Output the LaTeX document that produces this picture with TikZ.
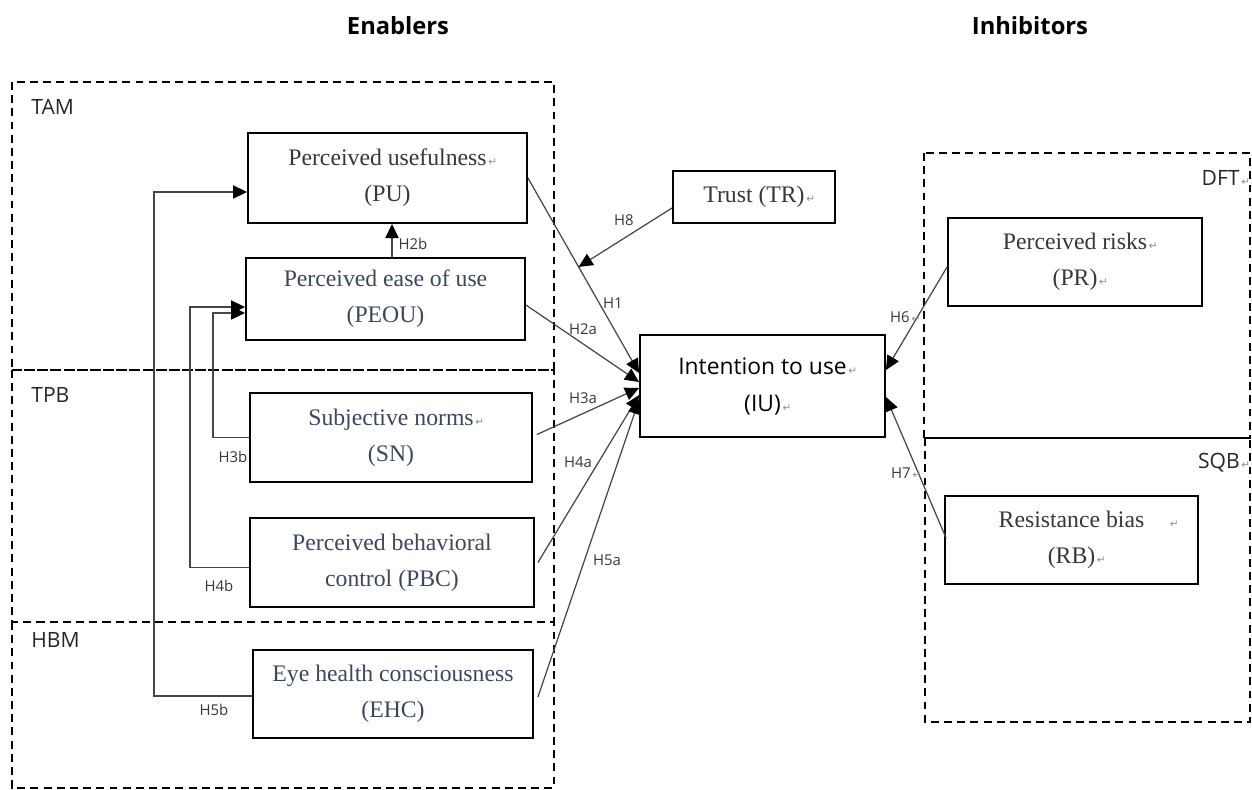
\documentclass[tikz,border=0pt]{standalone}
\usepackage{fontspec}
\setmainfont{Liberation Serif}
\setsansfont{Open Sans}
\newfontfamily\markfont{DejaVu Sans}
\usepackage{tikz}
\usetikzlibrary{calc, positioning, arrows.meta}
\definecolor{BoxText}{RGB}{59,72,92}
\definecolor{GreyText}{RGB}{55,55,55}
\definecolor{LineGrey}{RGB}{70,70,70}
\definecolor{MarkGrey}{RGB}{140,140,140}
% word-style paragraph mark, kept out of the centring
\newcommand{\pmark}{\rlap{{\markfont\fontsize{6}{6}\selectfont\color{MarkGrey}\,↵}}}

\begin{document}
\begin{tikzpicture}[x=0.02cm, y=-0.02cm,
  box/.style={draw, line width=1.1pt, align=center, inner sep=0pt, text=BoxText,
              font=\fontsize{13.5}{20.5}\selectfont},
  group/.style={draw, line width=1.1pt, dash pattern=on 4.5pt off 3pt},
  link/.style={draw=LineGrey, line width=0.7pt, -{Triangle[length=8pt,width=7.5pt,color=black]}},
  hyp/.style={font=\sffamily\fontsize{8.5}{10}\selectfont, text=GreyText, inner sep=1pt},
  tag/.style={font=\sffamily\fontsize{12}{14}\selectfont, text=black!85, inner sep=0pt}]
  \useasboundingbox (0,0) rectangle (1252,790);

  % headings
  \node[font=\sffamily\bfseries\fontsize{13.5}{16}\selectfont] (enab) at (398,26) {Enablers};
  \node[font=\sffamily\bfseries\fontsize{13.5}{16}\selectfont] (inhib) at (1030,26) {Inhibitors};

  % theory groups
  \draw[group] (12,82) rectangle (554,370);
  \draw[group] (12,370) rectangle (554,622);
  \draw[group] (12,622) rectangle (554,788);
  \draw[group] (924,153) rectangle (1250,438);
  \draw[group] (925,438) rectangle (1250,722);
  \node[tag, anchor=west] (tam) at (31,107) {TAM};
  \node[tag, anchor=west] (tpb) at (31,395) {TPB};
  \node[tag, anchor=west] (hbm) at (31,640) {HBM};
  \node[tag, anchor=east] (dft) at (1240,178) {DFT\pmark};
  \node[tag, anchor=east] (sqb) at (1240,463) {SQB\pmark};

  % constructs
  \node[box, text=GreyText, minimum width=5.58cm, minimum height=1.8cm] (pu) at (387.5,178)
    {Perceived usefulness\pmark\\(PU)};
  \node[box, minimum width=5.58cm, minimum height=1.64cm] (peou) at (385.5,299)
    {Perceived ease of use\\(PEOU)};
  \node[box, minimum width=5.64cm, minimum height=1.78cm] (sn) at (391,437.5)
    {Subjective norms\pmark\\(SN)};
  \node[box, minimum width=5.68cm, minimum height=1.78cm] (pbc) at (392,562.5)
    {Perceived behavioral\\control (PBC)};
  \node[box, minimum width=5.6cm, minimum height=1.76cm] (ehc) at (393,694)
    {Eye health consciousness\\(EHC)};
  \node[box, text=GreyText, minimum width=3.24cm, minimum height=1.04cm] (tr) at (754,197)
    {Trust (TR)\pmark};
  \node[box, text=black, minimum width=4.9cm, minimum height=2.04cm,
        font=\sffamily\fontsize{13}{21}\selectfont] (iu) at (762.5,386)
    {Intention to use\pmark\\(IU)\pmark};
  \node[box, text=GreyText, minimum width=5.08cm, minimum height=1.76cm] (pr) at (1075,262)
    {Perceived risks\pmark\\(PR)\pmark};
  \node[box, text=GreyText, minimum width=5.06cm, minimum height=1.76cm] (rb) at (1071.5,540)
    {Resistance bias\rlap{\quad\pmark}\\(RB)\pmark};

  % arrow ends on IU
  \coordinate (iu1) at ($(iu.west)+(0,-13)$);
  \coordinate (iu2) at ($(iu.west)+(0,-4)$);
  \coordinate (iu3) at ($(iu.west)+(0,2)$);
  \coordinate (iu4) at ($(iu.west)+(0,9)$);
  \coordinate (iu5) at ($(iu.west)+(0,14)$);
  \coordinate (h2b) at (392,0);
  \coordinate (h3b) at (213,313);
  \coordinate (h4b) at (190,307);
  \coordinate (h5b) at (154,192);

  \draw[link] (peou.north -| h2b) -- (pu.south -| h2b);
  \draw[link] (pu.east) -- (iu1);
  \draw[link] ($(tr.west)+(0,11)$) -- ($(pu.east)!0.456!(iu1)$);
  \draw[link] ($(peou.east)+(0,6)$) -- (iu2);
  \draw[link] ($(sn.east)+(4,-3)$) -- (iu3);
  \draw[link] ($(pbc.east)+(3,0)$) -- (iu4);
  \draw[link] ($(ehc.east)+(4,3)$) -- (iu5);
  \draw[link] ($(pr.west)+(0,5)$) -- ($(iu.east)+(0,-16)$);
  \draw[link] ($(rb.west)+(2,-2)$) -- ($(iu.east)+(0,11)$);
  \draw[link] (sn.west) -| (h3b) -- (peou.west |- h3b);
  \draw[link] ($(pbc.west)+(0,5)$) -| (h4b) -- (peou.west |- h4b);
  \draw[link] ($(ehc.west)+(0,2)$) -| (h5b) -- (pu.west |- h5b);

  % hypothesis labels
  \foreach \x/\y/\t in {413/244/H2b, 613/303/H1, 624/220/H8, 583/329/H2a, 583/398/H3a,
                        578/462/H4a, 607/560/H5a, 233/457/H3b, 219/586/H4b, 214/710/H5b}
    \node[hyp] (lbl\t) at (\x,\y) {\t};
  \node[hyp] (lblH6) at (900,317) {H6\pmark};
  \node[hyp] (lblH7) at (901,473) {H7\pmark};
\end{tikzpicture}
\end{document}
